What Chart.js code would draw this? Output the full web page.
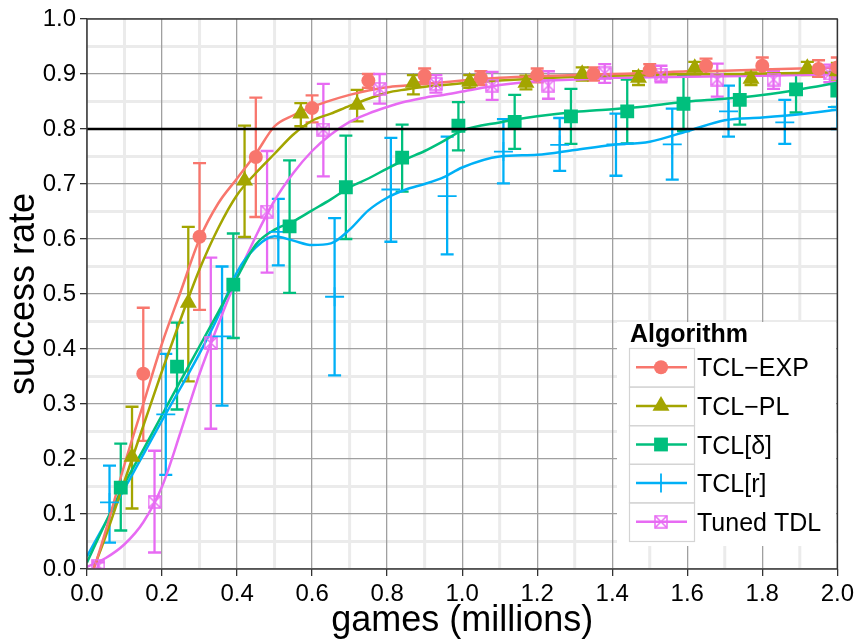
<!DOCTYPE html>
<html>
<head>
<meta charset="utf-8">
<script src="https://cdn.jsdelivr.net/npm/chart.js@4.4.1/dist/chart.umd.min.js"></script>
<style>
  html, body { margin: 0; padding: 0; background: #fff; }
  canvas { display: block; }
</style>
</head>
<body>
<canvas id="chart" width="858" height="639"></canvas>
<script>
// ---- data ----
const algorithms = ["TCL\u2212EXP", "TCL\u2212PL", "TCL[\u03b4]", "TCL[r]", "Tuned TDL"];
const colors = ["#F8766D", "#A3A500", "#00BF7D", "#00B0F6", "#E76BF3"];
const legendTitle = "Algorithm";
const xTitle = "games (millions)";
const yTitle = "success rate";
const hlineValue = 0.8;

// sampled points (x in millions of games) with error bar ends
const expX    = [0.15, 0.30, 0.45, 0.60, 0.75, 0.90, 1.05, 1.20, 1.35, 1.50, 1.65, 1.80, 1.95, 2.00];
const expY    = [0.355, 0.604, 0.749, 0.838, 0.888, 0.897, 0.893, 0.898, 0.900, 0.907, 0.915, 0.915, 0.909, 0.912];
const expLow  = [0.233, 0.471, 0.640, 0.812, 0.875, 0.885, 0.880, 0.885, 0.888, 0.895, 0.900, 0.900, 0.895, 0.895];
const expHigh = [0.475, 0.738, 0.857, 0.861, 0.900, 0.910, 0.905, 0.910, 0.912, 0.918, 0.928, 0.930, 0.925, 0.930];

const plX    = [0.12, 0.27, 0.42, 0.57, 0.72, 0.87, 1.02, 1.17, 1.32, 1.47, 1.62, 1.77, 1.92, 2.00];
const plY    = [0.204, 0.484, 0.706, 0.828, 0.844, 0.884, 0.886, 0.884, 0.900, 0.893, 0.911, 0.891, 0.911, 0.905];
const plLow  = [0.110, 0.341, 0.604, 0.805, 0.814, 0.863, 0.875, 0.872, 0.888, 0.880, 0.898, 0.880, 0.898, 0.890];
const plHigh = [0.295, 0.622, 0.806, 0.847, 0.871, 0.898, 0.898, 0.897, 0.912, 0.905, 0.922, 0.903, 0.922, 0.920];

const deltaX    = [0.09, 0.24, 0.39, 0.54, 0.69, 0.84, 0.99, 1.14, 1.29, 1.44, 1.59, 1.74, 1.89, 2.00];
const deltaY    = [0.148, 0.368, 0.517, 0.623, 0.694, 0.748, 0.806, 0.813, 0.823, 0.832, 0.846, 0.853, 0.872, 0.870];
const deltaLow  = [0.070, 0.290, 0.420, 0.502, 0.600, 0.686, 0.761, 0.764, 0.773, 0.774, 0.796, 0.808, 0.830, 0.840];
const deltaHigh = [0.228, 0.448, 0.610, 0.743, 0.788, 0.808, 0.849, 0.862, 0.873, 0.890, 0.897, 0.897, 0.900, 0.900];

const rX    = [0.06, 0.21, 0.36, 0.51, 0.66, 0.81, 0.96, 1.11, 1.26, 1.41, 1.56, 1.71, 1.86, 2.00];
const rY    = [0.121, 0.281, 0.423, 0.613, 0.495, 0.690, 0.678, 0.759, 0.771, 0.772, 0.772, 0.832, 0.812, 0.840];
const rLow  = [0.048, 0.171, 0.297, 0.552, 0.352, 0.595, 0.572, 0.701, 0.724, 0.715, 0.708, 0.786, 0.773, 0.800];
const rHigh = [0.188, 0.391, 0.550, 0.673, 0.638, 0.784, 0.786, 0.818, 0.820, 0.828, 0.837, 0.879, 0.853, 0.880];

const tdlX    = [0.03, 0.18, 0.33, 0.48, 0.63, 0.78, 0.93, 1.08, 1.23, 1.38, 1.53, 1.68, 1.83, 1.98];
const tdlY    = [0.006, 0.122, 0.411, 0.650, 0.799, 0.873, 0.882, 0.879, 0.879, 0.901, 0.899, 0.890, 0.890, 0.901];
const tdlLow  = [0.000, 0.030, 0.255, 0.539, 0.714, 0.846, 0.866, 0.853, 0.855, 0.884, 0.885, 0.859, 0.873, 0.885];
const tdlHigh = [0.012, 0.215, 0.566, 0.760, 0.882, 0.900, 0.898, 0.904, 0.905, 0.918, 0.915, 0.919, 0.905, 0.917];

// smoothed curves at these x positions
const smoothX      = [0, 0.05, 0.1, 0.15, 0.2, 0.25, 0.3, 0.35, 0.4, 0.45, 0.5, 0.55, 0.6, 0.65, 0.7, 0.75, 0.8, 0.85, 0.9, 0.95, 1.0, 1.1, 1.2, 1.3, 1.4, 1.5, 1.6, 1.7, 1.8, 1.9, 2.0];
const expSmooth    = [-0.04, 0.07, 0.19, 0.30, 0.41, 0.505, 0.60, 0.665, 0.71, 0.755, 0.805, 0.825, 0.84, 0.852, 0.862, 0.870, 0.876, 0.879, 0.882, 0.885, 0.888, 0.893, 0.896, 0.898, 0.900, 0.902, 0.905, 0.906, 0.908, 0.910, 0.912];
const plSmooth     = [-0.03, 0.06, 0.16, 0.26, 0.36, 0.455, 0.545, 0.62, 0.68, 0.72, 0.755, 0.79, 0.815, 0.828, 0.842, 0.855, 0.866, 0.872, 0.877, 0.880, 0.883, 0.888, 0.892, 0.895, 0.897, 0.898, 0.900, 0.900, 0.901, 0.902, 0.903];
const deltaSmooth  = [0.012, 0.085, 0.155, 0.217, 0.28, 0.343, 0.405, 0.467, 0.53, 0.59, 0.617, 0.632, 0.652, 0.672, 0.694, 0.71, 0.728, 0.745, 0.76, 0.778, 0.797, 0.812, 0.823, 0.831, 0.836, 0.842, 0.850, 0.855, 0.862, 0.872, 0.884];
const rSmooth      = [0.023, 0.085, 0.146, 0.208, 0.27, 0.33, 0.392, 0.46, 0.54, 0.585, 0.605, 0.597, 0.589, 0.592, 0.617, 0.652, 0.675, 0.69, 0.70, 0.712, 0.73, 0.75, 0.753, 0.762, 0.771, 0.777, 0.796, 0.816, 0.821, 0.827, 0.835];
const tdlSmooth    = [0.004, 0.02, 0.045, 0.085, 0.15, 0.25, 0.355, 0.445, 0.53, 0.605, 0.67, 0.72, 0.76, 0.79, 0.813, 0.828, 0.84, 0.85, 0.857, 0.862, 0.868, 0.880, 0.887, 0.890, 0.893, 0.894, 0.895, 0.896, 0.897, 0.898, 0.900];

const FONT = '"Liberation Sans", Arial, Helvetica, sans-serif';

function toPoints(xs, ys) {
    return xs.map(function (x, i) { return { x: x, y: ys[i] }; });
}

function boxedCross(color, size) {
    const c = document.createElement("canvas");
    c.width = size;
    c.height = size;
    const g = c.getContext("2d");
    g.strokeStyle = color;
    g.lineWidth = 1.5;
    g.strokeRect(1, 1, size - 2, size - 2);
    g.beginPath();
    g.moveTo(1, 1); g.lineTo(size - 1, size - 1);
    g.moveTo(size - 1, 1); g.lineTo(1, size - 1);
    g.stroke();
    return c;
}

const series = [
    { x: expX, y: expY, low: expLow, high: expHigh, smooth: expSmooth, style: "circle", radius: 7 },
    { x: plX, y: plY, low: plLow, high: plHigh, smooth: plSmooth, style: "triangle", radius: 9.8 },
    { x: deltaX, y: deltaY, low: deltaLow, high: deltaHigh, smooth: deltaSmooth, style: "rect", radius: 9.8 },
    { x: rX, y: rY, low: rLow, high: rHigh, smooth: rSmooth, style: "cross", radius: 9.5 },
    { x: tdlX, y: tdlY, low: tdlLow, high: tdlHigh, smooth: tdlSmooth, style: boxedCross(colors[4], 14), radius: 7 },
];

const datasets = [];
series.forEach(function (s, i) {
    datasets.push({
        label: algorithms[i] + " smooth",
        data: toPoints(smoothX, s.smooth),
        showLine: true,
        borderColor: colors[i],
        borderWidth: 2.5,
        pointRadius: 0,
        cubicInterpolationMode: "monotone",
        fill: false,
        order: 2,
        clip: 0,
    });
    datasets.push({
        label: algorithms[i],
        data: toPoints(s.x, s.y),
        showLine: false,
        pointStyle: s.style,
        pointRadius: s.radius,
        backgroundColor: colors[i],
        borderColor: colors[i],
        borderWidth: s.style === "cross" ? 1.8 : 0,
        order: 1,
        clip: 0,
    });
});

// light minor grid lines, under everything
const minorGrid = {
    id: "minorGrid",
    beforeDraw: function (chart) {
        const ctx = chart.ctx, a = chart.chartArea;
        const xs = chart.scales.x, ys = chart.scales.y;
        ctx.save();
        ctx.strokeStyle = "#ebebeb";
        ctx.lineWidth = 3;
        ctx.beginPath();
        for (let v = 0.1; v < 2; v += 0.2) {
            const px = xs.getPixelForValue(v);
            ctx.moveTo(px, a.top); ctx.lineTo(px, a.bottom);
        }
        for (let v = 0.05; v < 1; v += 0.1) {
            const py = ys.getPixelForValue(v);
            ctx.moveTo(a.left, py); ctx.lineTo(a.right, py);
        }
        ctx.stroke();
        ctx.restore();
    },
};

// vertical error bars with caps
const errorBars = {
    id: "errorBars",
    beforeDatasetsDraw: function (chart) {
        const ctx = chart.ctx, a = chart.chartArea;
        const xs = chart.scales.x, ys = chart.scales.y;
        ctx.save();
        ctx.beginPath();
        ctx.rect(a.left, a.top, a.right - a.left, a.bottom - a.top);
        ctx.clip();
        ctx.lineWidth = 2.3;
        series.forEach(function (s, i) {
            ctx.strokeStyle = colors[i];
            ctx.beginPath();
            s.x.forEach(function (x, j) {
                const px = xs.getPixelForValue(x);
                const pt = ys.getPixelForValue(s.high[j]);
                const pb = ys.getPixelForValue(s.low[j]);
                ctx.moveTo(px, pt); ctx.lineTo(px, pb);
                ctx.moveTo(px - 6.5, pt); ctx.lineTo(px + 6.5, pt);
                ctx.moveTo(px - 6.5, pb); ctx.lineTo(px + 6.5, pb);
            });
            ctx.stroke();
        });
        ctx.restore();
    },
};

// reference line and panel border
const refLine = {
    id: "refLine",
    afterDatasetsDraw: function (chart) {
        const ctx = chart.ctx, a = chart.chartArea;
        const py = chart.scales.y.getPixelForValue(hlineValue);
        ctx.save();
        ctx.strokeStyle = "#000";
        ctx.lineWidth = 2.7;
        ctx.beginPath();
        ctx.moveTo(a.left, py); ctx.lineTo(a.right, py);
        ctx.stroke();
        ctx.strokeStyle = "#333";
        ctx.lineWidth = 1.4;
        ctx.strokeRect(a.left, a.top, a.right - a.left, a.bottom - a.top);
        ctx.restore();
    },
};

function drawKeyMarker(ctx, i, x, y) {
    ctx.fillStyle = colors[i];
    ctx.strokeStyle = colors[i];
    ctx.beginPath();
    if (i === 0) {
        ctx.arc(x, y, 7, 0, Math.PI * 2);
        ctx.fill();
    } else if (i === 1) {
        ctx.moveTo(x, y - 9.8);
        ctx.lineTo(x + 8.5, y + 4.9);
        ctx.lineTo(x - 8.5, y + 4.9);
        ctx.closePath();
        ctx.fill();
    } else if (i === 2) {
        ctx.fillRect(x - 6.9, y - 6.9, 13.8, 13.8);
    } else if (i === 3) {
        ctx.lineWidth = 1.8;
        ctx.moveTo(x, y - 9.5); ctx.lineTo(x, y + 9.5);
        ctx.stroke();
    } else {
        ctx.drawImage(series[4].style, x - 7, y - 7);
    }
}

const algoLegend = {
    id: "algoLegend",
    afterDraw: function (chart) {
        const ctx = chart.ctx;
        const left = 629, top = 348, keyW = 65, rowH = 38.6;
        ctx.save();
        ctx.fillStyle = "#fff";
        ctx.fillRect(617, 322, 219, 224);
        ctx.fillStyle = "#000";
        ctx.font = "bold 25px " + FONT;
        ctx.textBaseline = "alphabetic";
        ctx.fillText(legendTitle, 630, 342);
        algorithms.forEach(function (name, i) {
            const y0 = top + i * rowH;
            const yc = y0 + rowH / 2;
            ctx.strokeStyle = "#d4d4d4";
            ctx.lineWidth = 1.2;
            ctx.strokeRect(left + 0.5, y0 + 0.5, keyW, rowH);
            ctx.strokeStyle = colors[i];
            ctx.lineWidth = 2.5;
            ctx.beginPath();
            ctx.moveTo(left + 7, yc); ctx.lineTo(left + 58, yc);
            ctx.stroke();
            drawKeyMarker(ctx, i, left + 32, yc);
            ctx.fillStyle = "#000";
            ctx.font = "25px " + FONT;
            ctx.fillText(name, 697, yc + 9);
        });
        ctx.restore();
    },
};

Chart.defaults.font.family = FONT;

new Chart(document.getElementById("chart"), {
    type: "scatter",
    data: { datasets: datasets },
    plugins: [minorGrid, errorBars, refLine, algoLegend],
    options: {
        responsive: false,
        animation: false,
        devicePixelRatio: 1,
        layout: { padding: { top: 19, right: 20, left: 0, bottom: 0 } },
        plugins: {
            legend: { display: false },
            tooltip: { enabled: false },
        },
        scales: {
            x: {
                type: "linear",
                min: 0,
                max: 2,
                ticks: {
                    stepSize: 0.2,
                    autoSkip: false,
                    maxRotation: 0,
                    color: "#000",
                    padding: 4,
                    font: { size: 24 },
                    callback: function (value) { return value.toFixed(1); },
                },
                grid: { color: "#a0a0a0", lineWidth: 1.3, tickLength: 7, tickColor: "#333", tickWidth: 1.3 },
                border: { display: false },
                title: { display: true, text: xTitle, color: "#000", font: { size: 36, lineHeight: 1 }, padding: { top: 0, bottom: 0 } },
                afterFit: function (scale) { scale.height = 70; },
            },
            y: {
                type: "linear",
                min: 0,
                max: 1,
                ticks: {
                    stepSize: 0.1,
                    autoSkip: false,
                    color: "#000",
                    padding: 4,
                    font: { size: 24 },
                    callback: function (value) { return value.toFixed(1); },
                },
                grid: { color: "#a0a0a0", lineWidth: 1.3, tickLength: 7, tickColor: "#333", tickWidth: 1.3 },
                border: { display: false },
                title: { display: true, text: yTitle, color: "#000", font: { size: 36, lineHeight: 1 }, padding: { top: 6, bottom: 0 } },
                afterFit: function (scale) { scale.width = 87; },
            },
        },
    },
});
</script>
</body>
</html>
